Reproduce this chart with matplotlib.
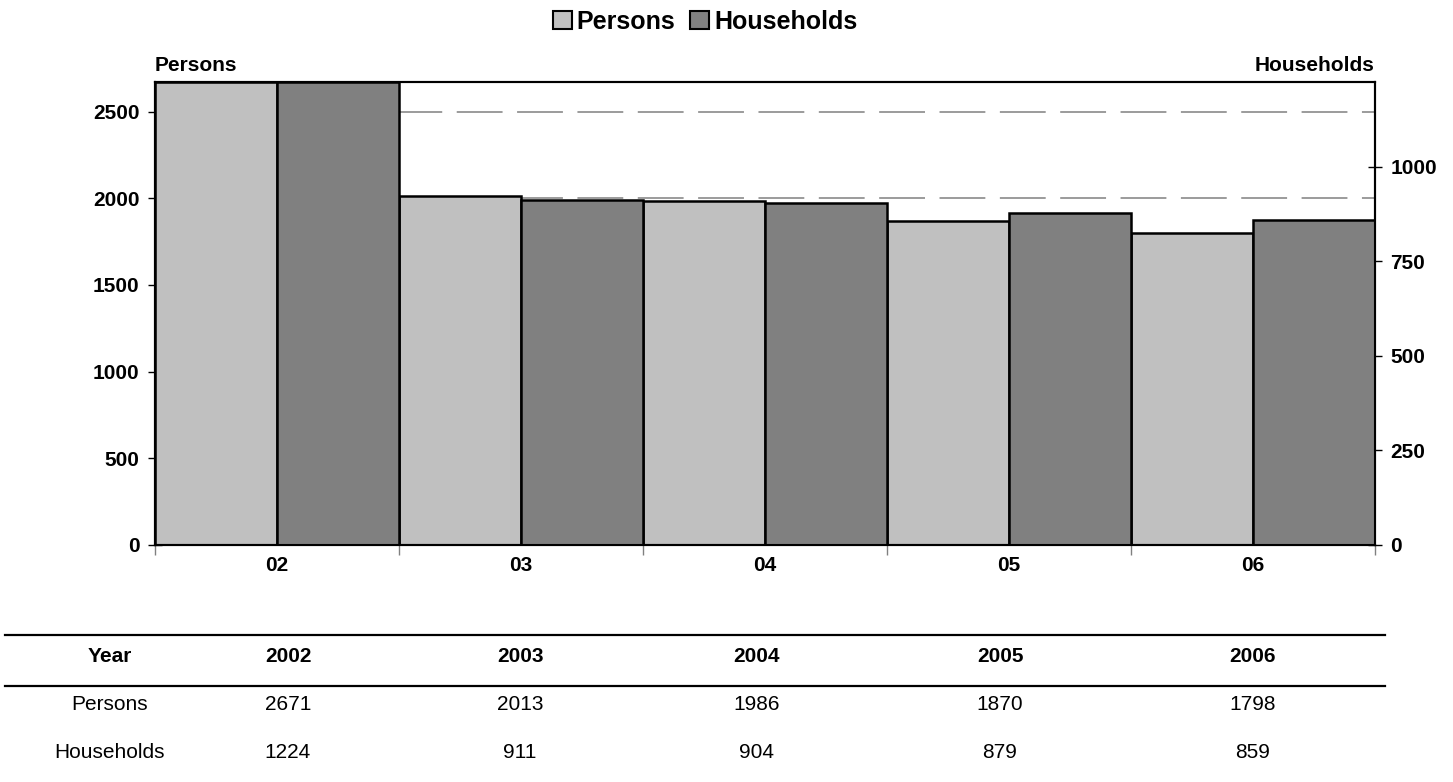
import matplotlib.pyplot as plt
from matplotlib.lines import Line2D
import numpy as np

plt.rcParams['font.family'] = ['Liberation Sans', 'DejaVu Sans']

years = ["2002", "2003", "2004", "2005", "2006"]
short_labels = ["02", "03", "04", "05", "06"]
persons = [2671, 2013, 1986, 1870, 1798]
households = [1224, 911, 904, 879, 859]

persons_color = "#c0c0c0"
households_color = "#808080"

fig = plt.figure(figsize=(14.53, 7.82), dpi=100)
ax = fig.add_axes([155 / 1453, 1 - 545 / 782, 1220 / 1453, 463 / 782])
ax2 = ax.twinx()

x = np.arange(len(years))

# dashed grid on the persons scale, sitting behind the bars
for v in range(500, 3000, 500):
    ax.axhline(v, color="#808080", lw=1.1, dashes=(30, 9.5), zorder=0)

ax.bar(x - 0.25, persons, width=0.5, color=persons_color,
       edgecolor="black", linewidth=1.8, zorder=2)
ax2.bar(x + 0.25, households, width=0.5, color=households_color,
        edgecolor="black", linewidth=1.8, zorder=2)

ax.set_xlim(-0.5, len(years) - 0.5)
ax.set_ylim(0, max(persons))
ax2.set_ylim(0, max(households))

ax.set_yticks(range(0, 3000, 500))
ax2.set_yticks(range(0, 1250, 250))
ax.tick_params(axis="y", direction="inout", length=10, width=1,
               labelsize=15, pad=6)
ax2.tick_params(axis="y", direction="inout", length=10, width=1,
                labelsize=15, pad=6)
for lbl in ax.get_yticklabels() + ax2.get_yticklabels():
    lbl.set_fontweight("bold")

ax.set_xticks(x)
ax.set_xticklabels(short_labels, fontsize=15, fontweight="bold")
ax.tick_params(axis="x", length=0, pad=8)
ax.set_xticks(np.arange(-0.5, len(years), 1.0), minor=True)
ax.tick_params(axis="x", which="minor", direction="out", length=7,
               width=1, color="#808080")

for a in (ax, ax2):
    for s in a.spines.values():
        s.set_linewidth(1.5)
        s.set_color("black")

ax.text(0, 1.015, "Persons", transform=ax.transAxes, ha="left", va="bottom",
        fontsize=15, fontweight="bold")
ax.text(1, 1.015, "Households", transform=ax.transAxes, ha="right",
        va="bottom", fontsize=15, fontweight="bold")

handles = [
    plt.Rectangle((0, 0), 1, 1, facecolor=persons_color, edgecolor="black", lw=1.5),
    plt.Rectangle((0, 0), 1, 1, facecolor=households_color, edgecolor="black", lw=1.5),
]
fig.legend(handles, ["Persons", "Households"], loc="center",
           bbox_to_anchor=(705 / 1453, 1 - 22 / 782), ncol=2, frameon=False,
           prop={"size": 18, "weight": "bold"}, handlelength=0.75,
           handleheight=0.75, handletextpad=0.2, columnspacing=0.6)

# data table under the chart
col_x = [110, 288, 520, 757, 1000, 1253]
row_y = [657, 705, 752]


def fx(px):
    return px / 1453


def fy(py):
    return 1 - py / 782


for py in (635, 686):
    fig.add_artist(Line2D([fx(5), fx(1385)], [fy(py), fy(py)],
                          color="black", lw=1.6))

rows = [
    ["Year"] + years,
    ["Persons"] + [str(v) for v in persons],
    ["Households"] + [str(v) for v in households],
]
for r, (row, py) in enumerate(zip(rows, row_y)):
    for cell, px in zip(row, col_x):
        fig.text(fx(px), fy(py), cell, ha="center", va="center",
                 fontsize=15, fontweight="bold" if r == 0 else "normal")

fig.savefig("out.png", dpi=100)
